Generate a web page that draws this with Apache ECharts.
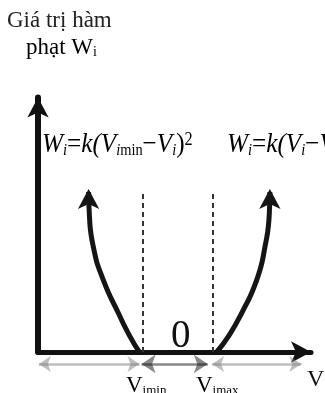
<!DOCTYPE html>
<html>
<head>
<meta charset="utf-8">
<script src="https://cdn.jsdelivr.net/npm/echarts@6/dist/echarts.min.js"></script>
<style>
  html, body { margin: 0; padding: 0; background: #fff; }
  #main { width: 325px; height: 393px; }
</style>
</head>
<body>
<div id="main"></div>
<script>
// V axis: Vmin / Vmax positions of the allowed band
const vMin = 6
const vMax = 10
const zeroLabel = '0'

// penalty curves, bottom -> arrow tip
const leftCurve = [[5.79, 0], [5.26, 0.58], [4.59, 1.47], [3.73, 2.72], [3.16, 3.97], [2.93, 5.25], [2.89, 6.04]]
const rightCurve = [[10.21, 0], [10.87, 0.58], [11.64, 1.47], [12.5, 2.72], [12.97, 3.97], [13.22, 5.25], [13.25, 6.04]]

// dashed bounds height
const boundTop = 6.05

// range arrows under the V axis: [from, to, kind]
const rangeY = -0.45
const rangeArrows = [[0.05, 5.8, 'out'], [5.92, 9.7, 'in'], [9.95, 15.05, 'out']]

const titleLines = ['Giá trị hàm', 'phạt W']

let chart = echarts.init(document.getElementById('main'))

function curveSeries (pts) {
  let data = pts.map(function (p, i) {
    if (i === pts.length - 1) {
      return { value: p, symbol: 'arrow', symbolSize: [16, 20], symbolOffset: [0, -3] }
    }
    return { value: p, symbol: 'none' }
  })
  return {
    type: 'line',
    data: data,
    smooth: 0.55,
    showSymbol: true,
    showAllSymbol: true,
    itemStyle: { color: '#151515' },
    lineStyle: { color: '#151515', width: 5 },
    silent: true,
    animation: false,
    clip: false,
  }
}

function boundSeries (v) {
  return {
    type: 'line',
    data: [[v, 0], [v, boundTop]],
    symbol: 'none',
    lineStyle: { color: '#333', width: 2, type: [5, 4] },
    silent: true,
    animation: false,
  }
}

let rangeData = rangeArrows.map(function (r) {
  let gray = r[2] === 'out'
  return {
    coords: [[r[0], rangeY], [r[1], rangeY]],
    symbolSize: gray ? 12 : 14,
    lineStyle: { color: gray ? '#7d7d7d' : '#111', width: gray ? 2.5 : 2.5 },
  }
})

let fRich = {
  n: { fontFamily: 'Liberation Serif', fontStyle: 'italic', fontSize: 28, color: '#111', verticalAlign: 'middle' },
  u: { fontFamily: 'Liberation Serif', fontSize: 28, color: '#111', verticalAlign: 'middle' },
  s: { fontFamily: 'Liberation Serif', fontStyle: 'italic', fontSize: 16, color: '#111', verticalAlign: 'bottom' },
  m: { fontFamily: 'Liberation Serif', fontSize: 16, color: '#111', verticalAlign: 'bottom' },
  p: { fontFamily: 'Liberation Serif', fontSize: 18, color: '#111', verticalAlign: 'top' },
}
let lRich = {
  n: { fontFamily: 'Liberation Serif', fontSize: 23, color: '#111', verticalAlign: 'middle' },
  s: { fontFamily: 'Liberation Serif', fontSize: 13, color: '#111', verticalAlign: 'bottom' },
}

chart.setOption({
  backgroundColor: '#fff',
  animation: false,
  grid: { left: 38, right: 14, top: 97.6, bottom: 41 },
  xAxis: {
    type: 'value',
    min: 0,
    max: 15.6,
    axisLine: {
      show: true,
      symbol: ['none', 'arrow'],
      symbolSize: [16, 20],
      lineStyle: { color: '#111', width: 5 },
    },
    axisTick: { show: false },
    axisLabel: { show: false },
    splitLine: { show: false },
  },
  yAxis: {
    type: 'value',
    min: 0,
    max: 9.6,
    axisLine: {
      show: true,
      symbol: ['none', 'arrow'],
      symbolSize: [16, 20],
      lineStyle: { color: '#111', width: 6 },
    },
    axisTick: { show: false },
    axisLabel: { show: false },
    splitLine: { show: false },
  },
  series: [
    boundSeries(vMin),
    boundSeries(vMax),
    curveSeries(leftCurve),
    curveSeries(rightCurve),
    {
      type: 'lines',
      coordinateSystem: 'cartesian2d',
      symbol: ['arrow', 'arrow'],
      clip: false,
      silent: true,
      animation: false,
      data: rangeData,
    },
  ],
  graphic: [
    { type: 'text', x: 7, y: 9, style: { text: titleLines[0], font: '23px "Liberation Serif"', fill: '#222' } },
    { type: 'text', x: 26, y: 36, style: { text: '{n|' + titleLines[1] + '}{s|i}', rich: {
      n: { fontFamily: 'Liberation Serif', fontSize: 23, color: '#222', verticalAlign: 'middle' },
      s: { fontFamily: 'Liberation Serif', fontSize: 14, color: '#222', verticalAlign: 'bottom' },
    } } },
    { type: 'text', x: 42, y: 131, scaleX: 0.9, style: { text: '{n|W}{s|i}{u|=}{n|k(V}{s|i}{m|min}{u|−}{n|V}{s|i}{u|)}{p|2}', rich: fRich } },
    { type: 'text', x: 227, y: 131, scaleX: 0.9, style: { text: '{n|W}{s|i}{u|=}{n|k(V}{s|i}{u|−}{n|V}{s|i}{m|max}{u|)}{p|2}', rich: fRich } },
    { type: 'text', x: 171, y: 317, style: { text: zeroLabel, font: '39px "Liberation Serif"', fill: '#111' } },
    { type: 'text', x: 126, y: 374, style: { text: '{n|V}{s|imin}', rich: lRich } },
    { type: 'text', x: 196, y: 374, style: { text: '{n|V}{s|imax}', rich: lRich } },
    { type: 'text', x: 307, y: 368, style: { text: 'V', font: '24px "Liberation Serif"', fill: '#111' } },
  ],
})
</script>
</body>
</html>
